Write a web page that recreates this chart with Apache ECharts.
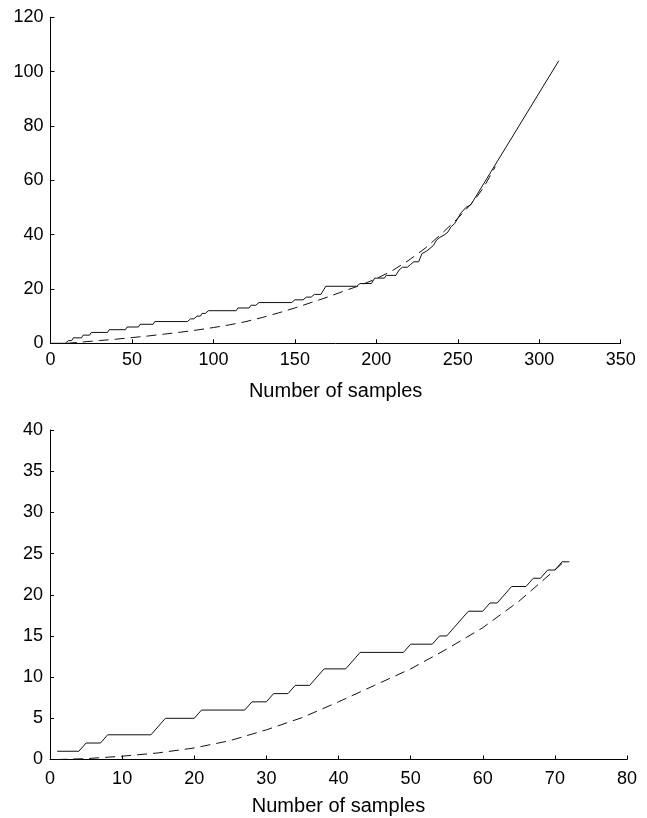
<!DOCTYPE html>
<html>
<head>
<meta charset="utf-8">
<script src="https://cdn.jsdelivr.net/npm/echarts@6/dist/echarts.min.js"></script>
<style>
html,body{margin:0;padding:0;background:#fff;}
#chart{width:647px;height:818px;}
</style>
</head>
<body>
<div id="chart"></div>
<script>
// Top panel
const topTicksX = [0, 50, 100, 150, 200, 250, 300, 350];
const topTicksY = [0, 20, 40, 60, 80, 100, 120];
const topSolid = [
  [0,0],[9,0],[11,1],[13,1],[14,2],[19,2],[20,3],[24,3],[25,4],[35,4],[36,5],[46,5],[47,6],[54,6],[55,7],[63,7],[64,8],
  [84,8],[86,9],[88,9],[90,10],[92,10],[93,11],[95,11],[97,12],[114,12],[115,13],[122,13],[123,14],[126,14],[128,15],
  [148,15],[150,16],[155,16],[157,17],[160,17],[162,18],[166,18],[169,21],[188,21],[190,22],[197,22],[199,24],[205,24],
  [206,25],[212,25],[214,27],[216,28],[219,28],[221,29],[223,30],[226,30],[228,33],[231,34],[233,35],[235,36],[237,38],
  [239,39],[242,40],[244,41],[246,43],[248,44],[252,48],[255,50],[258,51],[312,104]
];
const topDashed = [
  [10,0],[20,0.5],[30,1.0],[40,1.5],[50,2.1],[60,2.7],[70,3.4],[80,4.1],[90,4.9],[100,5.8],[110,6.8],[120,8.0],
  [130,9.5],[140,11.2],[150,13.0],[160,15.0],[170,17.0],[180,19.2],[190,21.3],[200,23.8],[210,26.8],[220,30.6],
  [230,35.0],[240,40.3],[250,46.0],[260,52.5],[266,57.5],[273,65]
];
// Bottom panel
const botTicksX = [0, 10, 20, 30, 40, 50, 60, 70, 80];
const botTicksY = [0, 5, 10, 15, 20, 25, 30, 35, 40];
const botSolid = [
  [1,1],[4,1],[5,2],[7,2],[8,3],[14,3],[16,5],[20,5],[21,6],[27,6],[28,7],[30,7],[31,8],[33,8],[34,9],[36,9],[38,11],
  [41,11],[43,13],[49,13],[50,14],[53,14],[54,15],[55,15],[58,18],[60,18],[61,19],[62,19],[64,21],[66,21],[67,22],
  [68,22],[69,23],[70,23],[71,24],[72,24]
];
const botDashed = [
  [1,0],[5,0.1],[10,0.4],[15,0.8],[20,1.4],[25,2.3],[30,3.6],[35,5.1],[40,7.0],[45,9.0],[50,11.0],[55,13.4],
  [60,16.0],[65,19.2],[70,23.0],[71,23.8]
];

const FONT = 'Liberation Sans';
function xAxis(gi, ticks, labelMargin, nameGap) {
  return {
    type: 'value', gridIndex: gi,
    min: ticks[0], max: ticks[ticks.length - 1], interval: ticks[1] - ticks[0],
    name: 'Number of samples', nameLocation: 'middle', nameGap: nameGap,
    nameTextStyle: { fontFamily: FONT, fontSize: 20, color: '#000' },
    axisLine: { show: true, onZero: false, lineStyle: { color: '#000', width: 1 } },
    axisTick: { show: true, inside: true, length: 4, lineStyle: { color: '#000', width: 1 } },
    axisLabel: { fontFamily: FONT, fontSize: 18, color: '#000', margin: labelMargin, showMinLabel: true, showMaxLabel: true },
    splitLine: { show: false }
  };
}
function yAxis(gi, ticks) {
  return {
    type: 'value', gridIndex: gi,
    min: ticks[0], max: ticks[ticks.length - 1], interval: ticks[1] - ticks[0],
    axisLine: { show: true, onZero: false, lineStyle: { color: '#000', width: 1 } },
    axisTick: { show: true, inside: true, length: 4, lineStyle: { color: '#000', width: 1 } },
    axisLabel: { fontFamily: FONT, fontSize: 18, color: '#000', margin: 7, showMinLabel: true, showMaxLabel: true },
    splitLine: { show: false }
  };
}
function line(xi, data, dashed) {
  return {
    type: 'line', xAxisIndex: xi, yAxisIndex: xi, data: data,
    showSymbol: false, symbol: 'none', silent: true, animation: false,
    lineStyle: { color: '#111', width: 1, type: dashed ? [10, 6] : 'solid' }
  };
}
const chart = echarts.init(document.getElementById('chart'), null, { renderer: 'canvas' });
chart.setOption({
  backgroundColor: '#fff',
  animation: false,
  grid: [
    { left: 50.5, top: 17.3, width: 570.2, height: 326, outerBoundsMode: 'none', containLabel: false },
    { left: 50, top: 430, width: 577, height: 329.5, outerBoundsMode: 'none', containLabel: false }
  ],
  xAxis: [xAxis(0, topTicksX, 8, 38), xAxis(1, botTicksX, 11, 37)],
  yAxis: [yAxis(0, topTicksY), yAxis(1, botTicksY)],
  series: [
    line(0, topSolid, false), line(0, topDashed, true),
    line(1, botSolid, false), line(1, botDashed, true)
  ]
});
</script>
</body>
</html>
